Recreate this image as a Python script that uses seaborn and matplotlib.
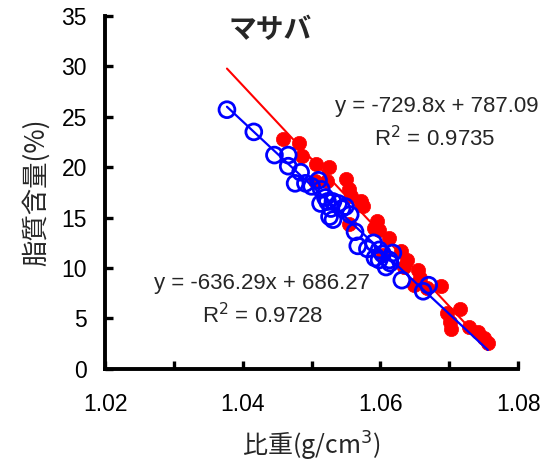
import matplotlib
matplotlib.use("Agg")
import matplotlib.pyplot as plt
import numpy as np
import pandas as pd
import seaborn as sns
from matplotlib.ticker import MultipleLocator

# open blue circles
blue_x = [1.0377, 1.0416, 1.0446, 1.0466, 1.0466, 1.0484, 1.0476, 1.0491, 1.0500,
          1.0510, 1.0514, 1.0513, 1.0523, 1.0531, 1.0539, 1.0528, 1.0526, 1.0531,
          1.0544, 1.0549, 1.0556, 1.0563, 1.0567, 1.0581, 1.0590, 1.0598, 1.0603,
          1.0598, 1.0608, 1.0613, 1.0618, 1.0631, 1.0662, 1.0670, 1.0592, 1.0614,
          1.0520]
blue_y = [25.7, 23.5, 21.2, 21.2, 20.1, 19.5, 18.4, 18.4, 18.1,
          18.7, 17.8, 16.4, 16.6, 16.6, 16.4, 15.9, 15.1, 14.8,
          15.9, 16.1, 15.3, 13.6, 12.2, 11.9, 12.5, 11.8, 11.4,
          10.8, 10.1, 10.8, 11.5, 8.8, 7.7, 8.3, 11.0, 10.5,
          17.0]

# filled red circles
red_x = [1.0458, 1.0481, 1.0486, 1.0506, 1.0525, 1.0505, 1.0523, 1.0550, 1.0554,
         1.0557, 1.0571, 1.0575, 1.0554, 1.0595, 1.0591, 1.0598, 1.0612, 1.0603,
         1.0630, 1.0639, 1.0634, 1.0654, 1.0657, 1.0649, 1.0688, 1.0667, 1.0697,
         1.0701, 1.0702, 1.0715, 1.0729, 1.0742, 1.0750, 1.0756]
red_y = [22.8, 22.4, 21.1, 20.3, 20.0, 18.6, 18.6, 18.8, 17.8,
         17.1, 16.6, 16.2, 14.4, 14.7, 14.0, 13.8, 13.0, 11.3,
         11.7, 10.8, 10.1, 9.8, 9.0, 8.3, 8.2, 8.0, 5.5,
         4.7, 4.0, 5.9, 4.2, 3.7, 3.1, 2.6]

# trendline coefficients (slope, intercept) as printed on the chart
red_fit = (-729.8, 787.09)
blue_fit = (-636.29, 686.27)
red_r2 = "0.9735"
blue_r2 = "0.9728"

x_ticks = [1.02, 1.04, 1.06, 1.08]
y_ticks = [0, 5, 10, 15, 20, 25, 30, 35]

sns.set_theme(style="white")
plt.rcParams["font.family"] = ["Liberation Sans", "Noto Sans CJK JP", "DejaVu Sans"]
JP = ["Noto Sans CJK JP", "DejaVu Sans"]

fig = plt.figure(figsize=(5.56, 4.67), dpi=100)
ax = fig.add_axes([0.189, 0.210, 0.743, 0.756])

df_blue = pd.DataFrame({"x": blue_x, "y": blue_y})
df_red = pd.DataFrame({"x": red_x, "y": red_y})

x_line = np.array([min(blue_x + red_x), max(blue_x + red_x)])
ax.plot(x_line, red_fit[0] * x_line + red_fit[1], color="#FF0000", lw=1.5, zorder=2)

sns.scatterplot(data=df_red, x="x", y="y", ax=ax, color="#FF0000", s=105,
                edgecolor="#FF0000", linewidth=0.5, zorder=3)
sns.scatterplot(data=df_blue, x="x", y="y", ax=ax, s=130, marker="o",
                facecolor="none", edgecolor="#0000FF", linewidth=2.0, zorder=4)
ax.plot(x_line, blue_fit[0] * x_line + blue_fit[1], color="#0000FF", lw=1.6, zorder=5)

ax.set_xlim(1.02, 1.08)
ax.set_ylim(0, 35)
ax.set_xticks(x_ticks)
ax.set_xticklabels([f"{t:.2f}" for t in x_ticks])
ax.xaxis.set_minor_locator(MultipleLocator(0.01))
ax.set_yticks(y_ticks)

for side in ["top", "right"]:
    ax.spines[side].set_visible(False)
for side in ["left", "bottom"]:
    ax.spines[side].set_linewidth(2.8)
    ax.spines[side].set_color("black")

ax.tick_params(axis="both", which="both", direction="in", width=2.4, length=6,
               color="black", labelsize=16.5, labelcolor="black")
ax.tick_params(axis="x", which="both", pad=17, bottom=True)
ax.tick_params(axis="y", pad=13, left=True)

ax.set_xlabel("比重(g/cm$^3$)", fontsize=18, family=JP, labelpad=10)
ax.set_ylabel("脂質含量(%)", fontsize=19, family=JP, labelpad=8)

ax.text(1.0440, 33.6, "マサバ", fontsize=20, fontweight="bold", family=JP,
        ha="center", va="center")

ax.text(1.0829, 26.0, f"y = {red_fit[0]}x + {red_fit[1]}", fontsize=16,
        ha="right", va="center")
ax.text(1.0679, 22.8, f"R$^2$ = {red_r2}", fontsize=16, ha="center", va="center")
ax.text(1.0428, 8.5, f"y = {blue_fit[0]}x + {blue_fit[1]}", fontsize=16,
        ha="center", va="center")
ax.text(1.0428, 5.3, f"R$^2$ = {blue_r2}", fontsize=16, ha="center", va="center")

fig.savefig("out.png", dpi=100, facecolor="white")
plt.close(fig)
